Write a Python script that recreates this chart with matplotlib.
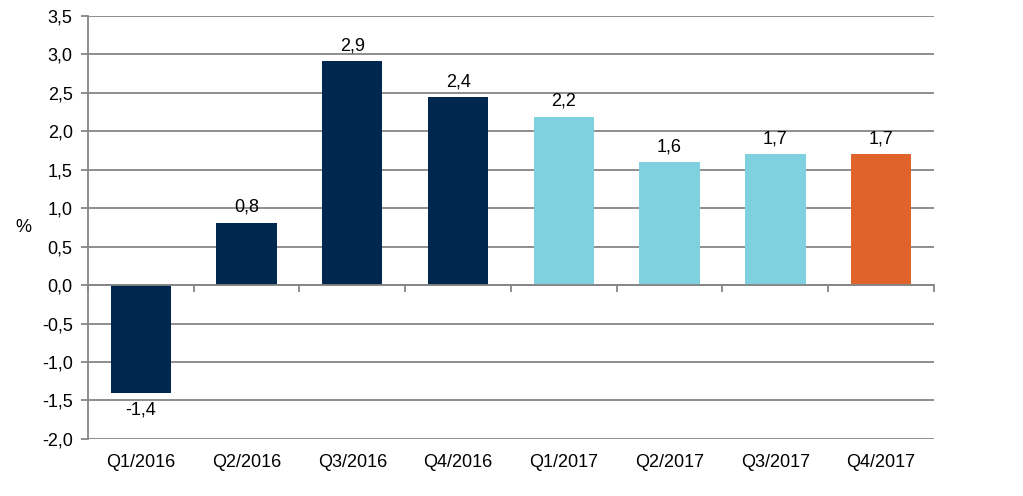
import matplotlib.pyplot as plt
from matplotlib.ticker import FuncFormatter, MultipleLocator

plt.rcParams['font.family'] = ['Liberation Sans', 'DejaVu Sans']

# Data
quarters = ["Q1/2016", "Q2/2016", "Q3/2016", "Q4/2016",
            "Q1/2017", "Q2/2017", "Q3/2017", "Q4/2017"]
values = [-1.4, 0.81, 2.91, 2.44, 2.19, 1.6, 1.7, 1.7]
bar_colors = ["#00284F", "#00284F", "#00284F", "#00284F",
              "#80D1DF", "#80D1DF", "#80D1DF", "#E0632B"]

grid_color = "#868686"
ymin, ymax = -2.0, 3.5
fs = 13

fig = plt.figure(figsize=(10.23, 4.96), dpi=100)
ax = fig.add_axes([0.086, 0.115, 0.827, 0.853])

x = list(range(len(quarters)))
bars = ax.bar(x, values, width=0.57, color=bar_colors, zorder=3)

# value labels above (or below) bars
for bar, v in zip(bars, values):
    label = f"{v:.1f}".replace(".", ",")
    if v >= 0:
        ax.annotate(label, (bar.get_x() + bar.get_width() / 2, v),
                    xytext=(0, 5), textcoords="offset points",
                    ha="center", va="bottom", fontsize=fs)
    else:
        ax.annotate(label, (bar.get_x() + bar.get_width() / 2, v),
                    xytext=(0, -6), textcoords="offset points",
                    ha="center", va="top", fontsize=fs)

ax.set_xlim(-0.5, len(quarters) - 0.5)
ax.set_ylim(ymin, ymax)
ax.yaxis.set_major_locator(MultipleLocator(0.5))
ax.yaxis.set_major_formatter(FuncFormatter(lambda v, p: f"{v:.1f}".replace(".", ",")))
ax.grid(axis="y", color=grid_color, linewidth=1.3, zorder=0)
ax.set_axisbelow(True)

# category labels at the bottom
ax.set_xticks(x)
ax.set_xticklabels(quarters, fontsize=fs)
ax.tick_params(axis="x", length=0, pad=11)
ax.tick_params(axis="y", length=5, width=1.3, color=grid_color, labelsize=fs, pad=6)

for side in ["top", "right", "bottom"]:
    ax.spines[side].set_visible(False)
ax.spines["left"].set_color(grid_color)
ax.spines["left"].set_linewidth(1.3)

# zero axis line with ticks between categories
zero_frac = (0 - ymin) / (ymax - ymin)
sec = ax.secondary_xaxis(zero_frac)
sec.set_xticks([i + 0.5 for i in range(-1, len(quarters))])
sec.set_xticklabels([])
sec.tick_params(length=5, width=1.3, color=grid_color, direction="out")
sec.spines["bottom"].set_color(grid_color)
sec.spines["bottom"].set_linewidth(1.3)
sec.set_zorder(4)

ax.set_ylabel("%", rotation=0, fontsize=fs, va="center", ha="center")
ax.yaxis.set_label_coords(-0.076, 0.5)

fig.savefig("out.png", dpi=100)
